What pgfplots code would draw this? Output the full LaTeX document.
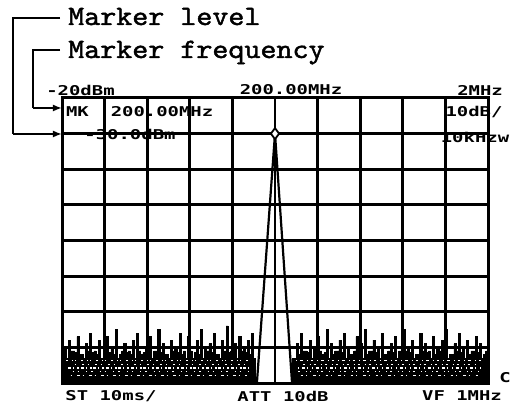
\documentclass[border=0pt]{standalone}
\usepackage{pgfplots}
\pgfplotsset{compat=1.18}
\usepackage{graphicx}
\usepackage{fontspec}
\newfontfamily\scrfont{DejaVu Sans Mono}
\newfontfamily\cofont{lmmono10-regular.otf}[FakeBold=1.5]
\newcommand\st[1]{\scalebox{1.4}[1]{\fontsize{13.5}{14}\selectfont\scrfont\bfseries #1}}
\newcommand\co[1]{\scalebox{1.09}[1]{\fontsize{28}{30}\selectfont\cofont\bfseries #1}}
\usetikzlibrary{arrows.meta}
\begin{document}
\begin{tikzpicture}[x=1pt,y=1pt]
\useasboundingbox (-62,-26) rectangle (451,383);
\begin{axis}[
  at={(0,0)}, anchor=south west,
  width=426pt, height=285pt, scale only axis,
  xmin=190, xmax=210, ymin=-100, ymax=-20,
  xtick={190,192,194,196,198,200,202,204,206,208,210},
  ytick={-100,-90,-80,-70,-60,-50,-40,-30,-20},
  xticklabels={}, yticklabels={},
  major tick length=0pt,
  grid=major,
  major grid style={black, line width=2.8pt},
  axis line style={black, line width=3pt},
]
% left noise
\addplot[const plot, fill=black, draw=black, line width=0.8pt] coordinates {
(190.0,-100)
(190.0,-92) (190.1,-90) (190.2,-93) (190.3,-88) (190.4,-91) (190.5,-91) (190.6,-91.5) (190.7,-87) (190.8,-92) (190.9,-92)
(191.0,-93) (191.1,-89) (191.2,-91) (191.3,-86) (191.4,-91.5) (191.5,-91) (191.6,-92) (191.7,-88) (191.8,-93) (191.9,-93)
(192.0,-91) (192.1,-87) (192.2,-91.5) (192.3,-90) (192.4,-92) (192.5,-85) (192.6,-93) (192.7,-92) (192.8,-91) (192.9,-89)
(193.0,-91.5) (193.1,-91) (193.2,-92) (193.3,-88) (193.4,-93) (193.5,-86) (193.6,-91) (193.7,-92) (193.8,-91.5) (193.9,-90)
(194.0,-92) (194.1,-87) (194.2,-93) (194.3,-91) (194.4,-91) (194.5,-85) (194.6,-91.5) (194.7,-89) (194.8,-92) (194.9,-92)
(195.0,-93) (195.1,-88) (195.2,-91) (195.3,-90) (195.4,-91.5) (195.5,-86) (195.6,-92) (195.7,-91) (195.8,-93) (195.9,-87)
(196.0,-91) (196.1,-93) (196.2,-91.5) (196.3,-88) (196.4,-92) (196.5,-85) (196.6,-93) (196.7,-90) (196.8,-91) (196.9,-89)
(197.0,-91.5) (197.1,-86) (197.2,-92) (197.3,-92) (197.4,-93) (197.5,-88) (197.6,-91) (197.7,-84) (197.8,-91.5) (197.9,-91)
(198.0,-92) (198.1,-89) (198.2,-93) (198.3,-87) (198.4,-91) (198.5,-90) (198.6,-91.5) (198.7,-88) (198.8,-92) (198.9,-86)
(199.0,-93) (199.1,-93) (199.1,-100)
};
% right noise
\addplot[const plot, fill=black, draw=black, line width=0.8pt] coordinates {
(200.8,-100)
(200.8,-93) (200.9,-93) (201.0,-89) (201.1,-92) (201.2,-86) (201.3,-91) (201.4,-91) (201.5,-91.5) (201.6,-88) (201.7,-93) (201.8,-90)
(201.9,-92) (202.0,-87) (202.1,-91) (202.2,-92) (202.3,-91.5) (202.4,-85) (202.5,-93) (202.6,-89) (202.7,-92) (202.8,-91)
(202.9,-91) (203.0,-88) (203.1,-91.5) (203.2,-86) (203.3,-93) (203.4,-90) (203.5,-92) (203.6,-92) (203.7,-91) (203.8,-87)
(203.9,-91.5) (204.0,-89) (204.1,-93) (204.2,-85) (204.3,-92) (204.4,-91) (204.5,-91) (204.6,-88) (204.7,-91.5) (204.8,-90)
(204.9,-93) (205.0,-86) (205.1,-92) (205.2,-92) (205.3,-91) (205.4,-89) (205.5,-91.5) (205.6,-87) (205.7,-93) (205.8,-91)
(205.9,-92) (206.0,-85) (206.1,-91) (206.2,-90) (206.3,-91.5) (206.4,-88) (206.5,-93) (206.6,-92) (206.7,-92) (206.8,-86)
(206.9,-91) (207.0,-89) (207.1,-91.5) (207.2,-91) (207.3,-93) (207.4,-87) (207.5,-92) (207.6,-90) (207.7,-91) (207.8,-88)
(207.9,-91.5) (208.0,-85) (208.1,-93) (208.2,-92) (208.3,-92) (208.4,-89) (208.5,-91) (208.6,-86) (208.7,-91.5) (208.8,-90)
(208.9,-93) (209.0,-88) (209.1,-92) (209.2,-91) (209.3,-91) (209.4,-87) (209.5,-91.5) (209.6,-89) (209.7,-93) (209.8,-92)
(209.9,-91) (210.0,-91) (210.0,-100)
};
% white flecks in the noise band
\addplot[white, line width=1.5pt, dash pattern=on 3pt off 2pt on 1pt off 3pt on 2pt off 1.5pt] coordinates {(190.3,-95.8) (198.8,-95.8)};
\addplot[white, line width=1.5pt, dash pattern=on 1pt off 2.5pt on 3pt off 2pt on 1.5pt off 4pt] coordinates {(201.1,-95.8) (209.7,-95.8)};
\addplot[white, line width=1.2pt, dash pattern=on 2pt off 4pt on 1pt off 2pt on 1pt off 5pt] coordinates {(190.2,-93.6) (198.9,-93.6)};
\addplot[white, line width=1.2pt, dash pattern=on 1pt off 3pt on 2.5pt off 4pt] coordinates {(201.0,-93.6) (209.8,-93.6)};
\addplot[white, line width=1.2pt, dash pattern=on 1.5pt off 5pt on 2.5pt off 3pt] coordinates {(190.4,-97.8) (198.7,-97.8)};
\addplot[white, line width=1.2pt, dash pattern=on 2.5pt off 3pt on 1pt off 6pt] coordinates {(201.2,-97.8) (209.6,-97.8)};
\addplot[white, line width=1pt, dash pattern=on 1pt off 6pt on 2pt off 4pt] coordinates {(190.6,-94.7) (198.6,-94.7)};
\addplot[white, line width=1pt, dash pattern=on 2pt off 5pt on 1pt off 3pt] coordinates {(201.3,-94.7) (209.5,-94.7)};
\addplot[white, line width=1pt, dash pattern=on 1pt off 4pt on 1.5pt off 7pt] coordinates {(190.5,-96.9) (198.8,-96.9)};
\addplot[white, line width=1pt, dash pattern=on 1.5pt off 6pt on 1pt off 3pt] coordinates {(201.1,-96.9) (209.7,-96.9)};
% peak
\addplot[black, line width=2.2pt, sharp plot] coordinates {
(199.15,-100) (200,-30) (200.8,-100)
};
\addplot[only marks, mark=diamond*, mark size=5.5pt, mark options={fill=white, draw=black, line width=1.8pt}] coordinates {(200,-30)};
\end{axis}
% callouts
\draw[line width=1.8pt] (-2,365) -- (-49,365) -- (-49,249);
\draw[line width=1.8pt, -{Latex[length=9pt,width=7pt]}] (-49,249) -- (0,249);
\draw[line width=1.8pt] (-2,333) -- (-29,333) -- (-29,275);
\draw[line width=1.8pt, -{Latex[length=9pt,width=7pt]}] (-29,275) -- (0,275);
\node[anchor=base west, inner sep=0pt] at (6,358) {\co{Marker level}};
\node[anchor=base west, inner sep=0pt] at (6,325) {\co{Marker frequency}};
% screen texts
\node[inner sep=0pt] at (18.5,293) {\st{-20dBm}};
\node[inner sep=0pt] at (229,293) {\st{200.00MHz}};
\node[inner sep=0pt] at (418,293) {\st{2MHz}};
\node[inner sep=0pt] at (15.5,271) {\st{MK}};
\node[inner sep=0pt] at (100,271) {\st{200.00MHz}};
\node[inner sep=0pt] at (412,271) {\st{10dB/}};
\node[inner sep=0pt] at (68,249) {\st{-30.0dBm}};
\node[inner sep=0pt] at (413,246) {\st{10kHzw}};
\node[inner sep=0pt] at (443,5) {\st{C}};
\node[inner sep=0pt] at (49,-13) {\st{ST 10ms/}};
\node[inner sep=0pt] at (221,-13) {\st{ATT 10dB}};
\node[inner sep=0pt] at (400,-13) {\st{VF 1MHz}};
\end{tikzpicture}
\end{document}
